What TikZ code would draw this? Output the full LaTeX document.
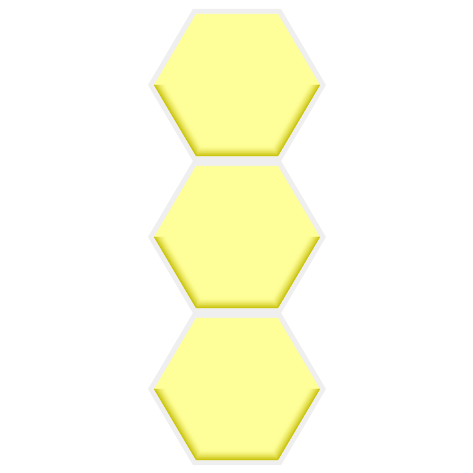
\documentclass[tikz,border=0pt]{standalone}
\usetikzlibrary{shapes.geometric}
\definecolor{hexfill}{HTML}{FFFF99}
\definecolor{hexedge}{HTML}{C4BC00}
\definecolor{hexrim}{HTML}{EFEFEF}

\begin{document}
\begin{tikzpicture}[
        x=1pt, y=-1pt,
        rim/.style={fill=hexrim},
        cell/.style={fill=hexfill},
        shade line/.style={line width=1.4pt, line join=miter},
    ]
    \useasboundingbox (0,0) rectangle (473,473);

    %--- three cells ---
    \foreach \cy in {85,237,389} {
        \begin{scope}[shift={(237,\cy)}]
            \fill[rim]  (0:89) -- (60:88) -- (120:88) -- (180:89) -- (240:88) -- (300:88) -- cycle;
            \fill[cell] (0:83) -- (60:82) -- (120:82) -- (180:83) -- (240:82) -- (300:82) -- cycle;
            % inner shadow on the lower edges
            \begin{scope}
                \clip (0:83) -- (60:82) -- (120:82) -- (180:83) -- (240:82) -- (300:82) -- cycle;
                \foreach \i in {0,...,11} {
                    \pgfmathsetmacro{\r}{82*(1-0.0125*\i)}
                    \pgfmathsetmacro{\p}{100*(1-\i/12)^1.6}
                    \draw[shade line, color=hexedge!\p!hexfill]
                        (180:\r+1) -- (120:\r) -- (60:\r) -- (0:\r+1);
                }
            \end{scope}
        \end{scope}
    }
\end{tikzpicture}
\end{document}
